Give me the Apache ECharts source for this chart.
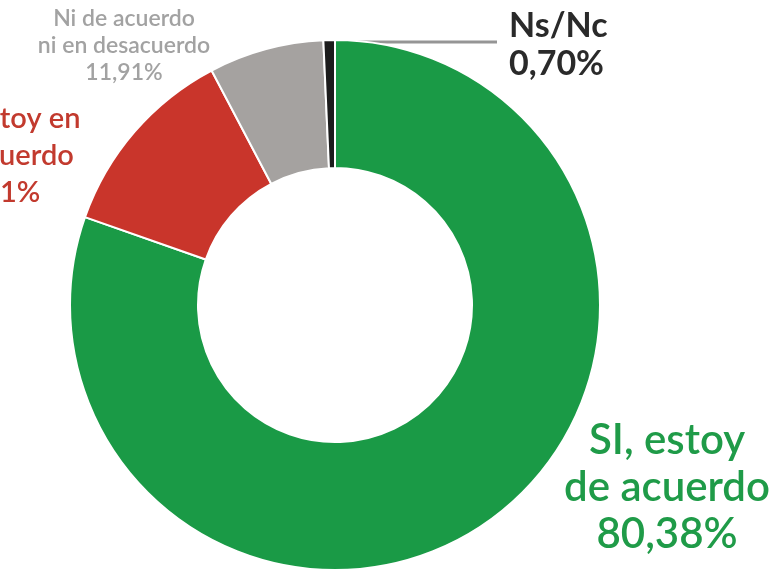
<!DOCTYPE html>
<html>
<head>
<meta charset="utf-8">
<script src="https://cdn.jsdelivr.net/npm/echarts@6/dist/echarts.min.js"></script>
<style>
  html, body { margin: 0; padding: 0; background: #fff; }
  #chart { width: 778px; height: 569px; }
</style>
</head>
<body>
<div id="chart"></div>
<script>
// datos
var categorias = ["SI, estoy\nde acuerdo", "No, estoy en\ndesacuerdo", "Ni de acuerdo\nni en desacuerdo", "Ns/Nc"];
var valores    = [80.38, 11.91, 7.01, 0.70];
var porcentajes = ["80,38%", "7,01%", "11,91%", "0,70%"];
var colores    = ["#1a9a46", "#c9352b", "#a5a2a0", "#1c1c1c"];

var myChart = echarts.init(document.getElementById("chart"));

// estilo y sitio de cada etiqueta
var estilos = [
    {color: "#1f9b48", fontSize: 42, lineHeight: 47, fontWeight: 600, x: 667, y: 417, align: "center"},
    {color: "#c23a2e", fontSize: 29, lineHeight: 37, fontWeight: 600, x: 0,   y: 100, align: "center"},
    {color: "#a2a2a2", fontSize: 23, lineHeight: 27, fontWeight: 600, x: 124, y: 5,   align: "center"},
    {color: "#2a2a2a", fontSize: 34, lineHeight: 38, fontWeight: 700, x: 509, y: 7,   align: "left"}
];

var datos = [];
for (var i = 0; i < valores.length; i++) {
    datos.push({
        name: categorias[i],
        value: valores[i],
        itemStyle: {color: colores[i]},
        label: {
            formatter: categorias[i] + "\n" + porcentajes[i],
            color: estilos[i].color,
            fontSize: estilos[i].fontSize,
            lineHeight: estilos[i].lineHeight,
            fontWeight: estilos[i].fontWeight,
            align: estilos[i].align
        },
        labelLine: {show: i === 3}
    });
}

myChart.setOption({
    animation: false,
    series: [{
        type: "pie",
        center: [335, 305],
        radius: [137, 265],
        startAngle: 90,
        clockwise: true,
        avoidLabelOverlap: false,
        itemStyle: {borderColor: "#fff", borderWidth: 2},
        label: {
            show: true,
            position: "outside",
            fontFamily: "Lato",
            alignTo: "none"
        },
        labelLine: {
            show: false,
            lineStyle: {color: "#959595", width: 3}
        },
        labelLayout: function (params) {
            var e = estilos[params.dataIndex];
            var out = {x: e.x, y: e.y, align: e.align, verticalAlign: "top"};
            if (params.dataIndex === 3 && params.labelLinePoints) {
                var p = params.labelLinePoints[0];
                out.labelLinePoints = [[p[0], p[1] + 2], [e.x - 12, p[1] + 2]];
            }
            return out;
        },
        data: datos
    }]
});
</script>
</body>
</html>
